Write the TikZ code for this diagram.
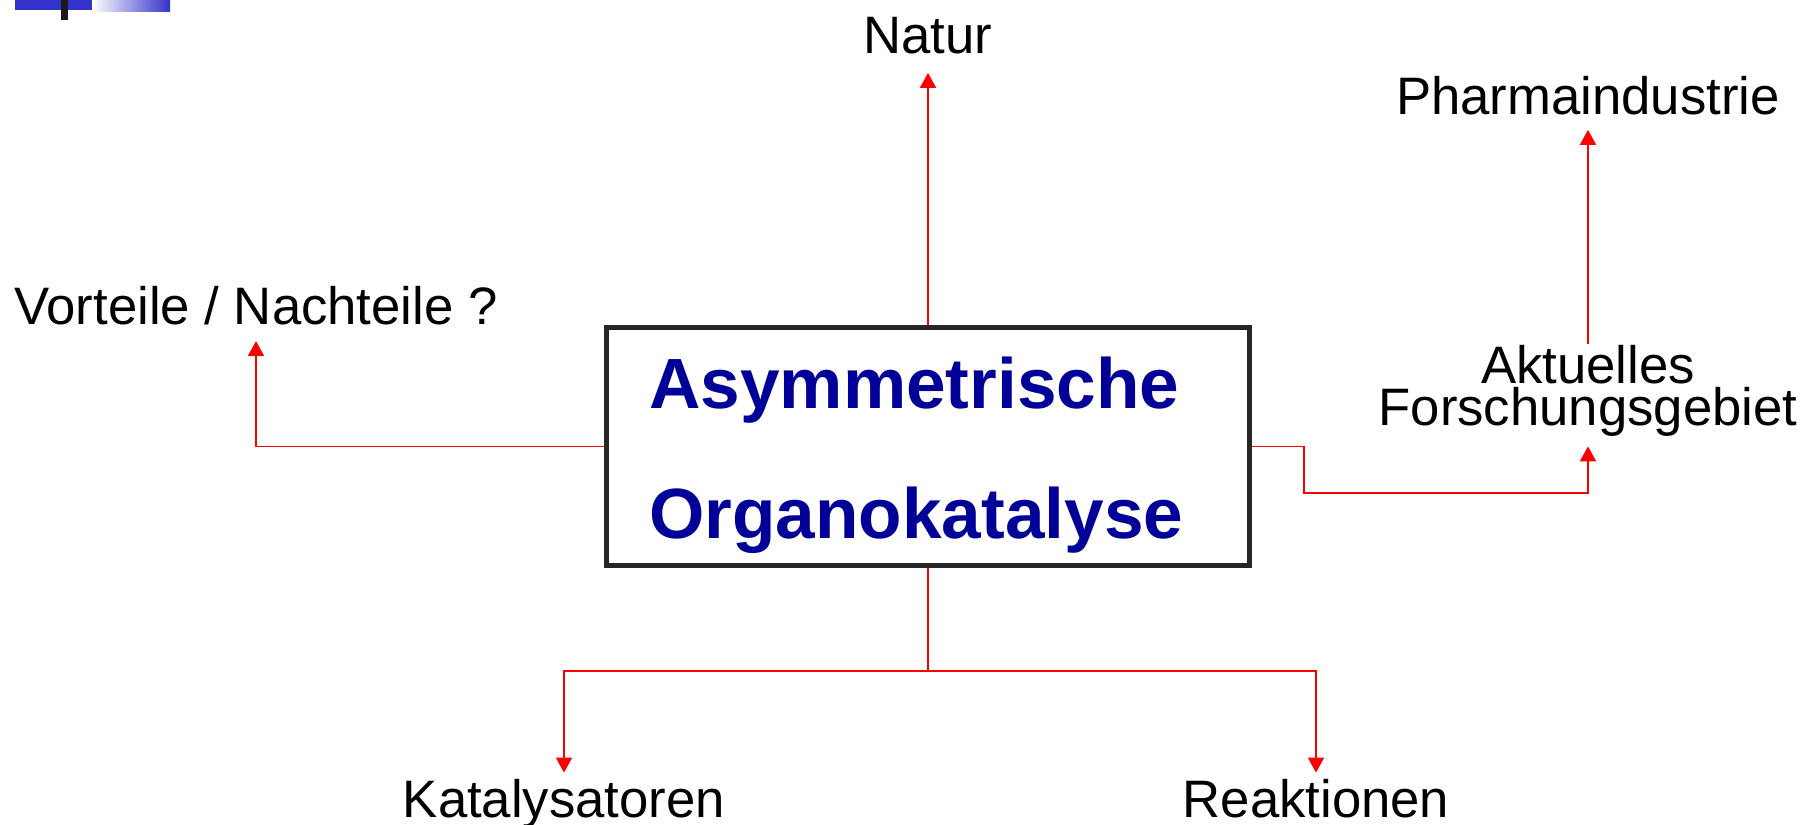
\documentclass[tikz,border=0pt]{standalone}
\usepackage{fontspec}
\setmainfont{Liberation Sans}
\usetikzlibrary{arrows.meta}
\definecolor{titleblue}{RGB}{0,0,153}
\definecolor{slideblue}{RGB}{51,51,204}

\begin{document}
\begin{tikzpicture}[x=0.02cm, y=-0.02cm,
    label/.style={font=\fontsize{30}{24}\selectfont},
    title/.style={font=\fontsize{40.5}{48}\selectfont\bfseries, text=titleblue, anchor=base west, inner sep=0pt},
    link/.style={red, line width=1pt, -{Triangle[length=0.3cm, width=0.32cm]}},
    line/.style={red, line width=1pt}]
    \useasboundingbox (0,0) rectangle (1810,825);

    % Slide header
    \fill[slideblue] (15,0) rectangle (92,10);
    \shade[left color=white, right color=slideblue] (92,0) rectangle (170,11);
    \fill[black!90] (61,0) rectangle (68,20);

    % Center box
    \node[draw=black!85, line width=2.5pt, minimum width=12.86cm, minimum height=4.76cm] (box) at (928,446.5) {};
    \node[title] (asym) at (649,408.6) {Asymmetrische};
    \node[title] (organo) at (649,538) {Organokatalyse};

    % Labels
    \node[label, anchor=base] (natur) at (928,53) {Natur};
    \node[label, anchor=base] (vorteile) at (256,324) {Vorteile / Nachteile ?};
    \node[label, align=center] (forschung) at (1588,391) {Aktuelles\\Forschungsgebiet};
    \node[label, anchor=base] (pharma) at (1588,114) {Pharmaindustrie};
    \node[label, anchor=base] (katalysatoren) at (564,817) {Katalysatoren};
    \node[label, anchor=base] (reaktionen) at (1316,817) {Reaktionen};

    % Arrows
    \coordinate (bend) at (1304,493);
    \coordinate (split) at (928,671);
    \draw[link, shorten >=7.5pt] (box.north) -- (natur.south);
    \draw[link, shorten >=5.9pt] (box.west) -| (vorteile.south);
    \draw[link, shorten >=2pt] (box.east) -| (bend) -| (forschung.south);
    \draw[link, shorten <=-3pt, shorten >=5.2pt] (forschung.north) -- (pharma.south);
    \draw[line] (box.south) -- (split);
    \draw[link] (split) -| (katalysatoren.north);
    \draw[link] (split) -| (reaktionen.north);
\end{tikzpicture}
\end{document}
